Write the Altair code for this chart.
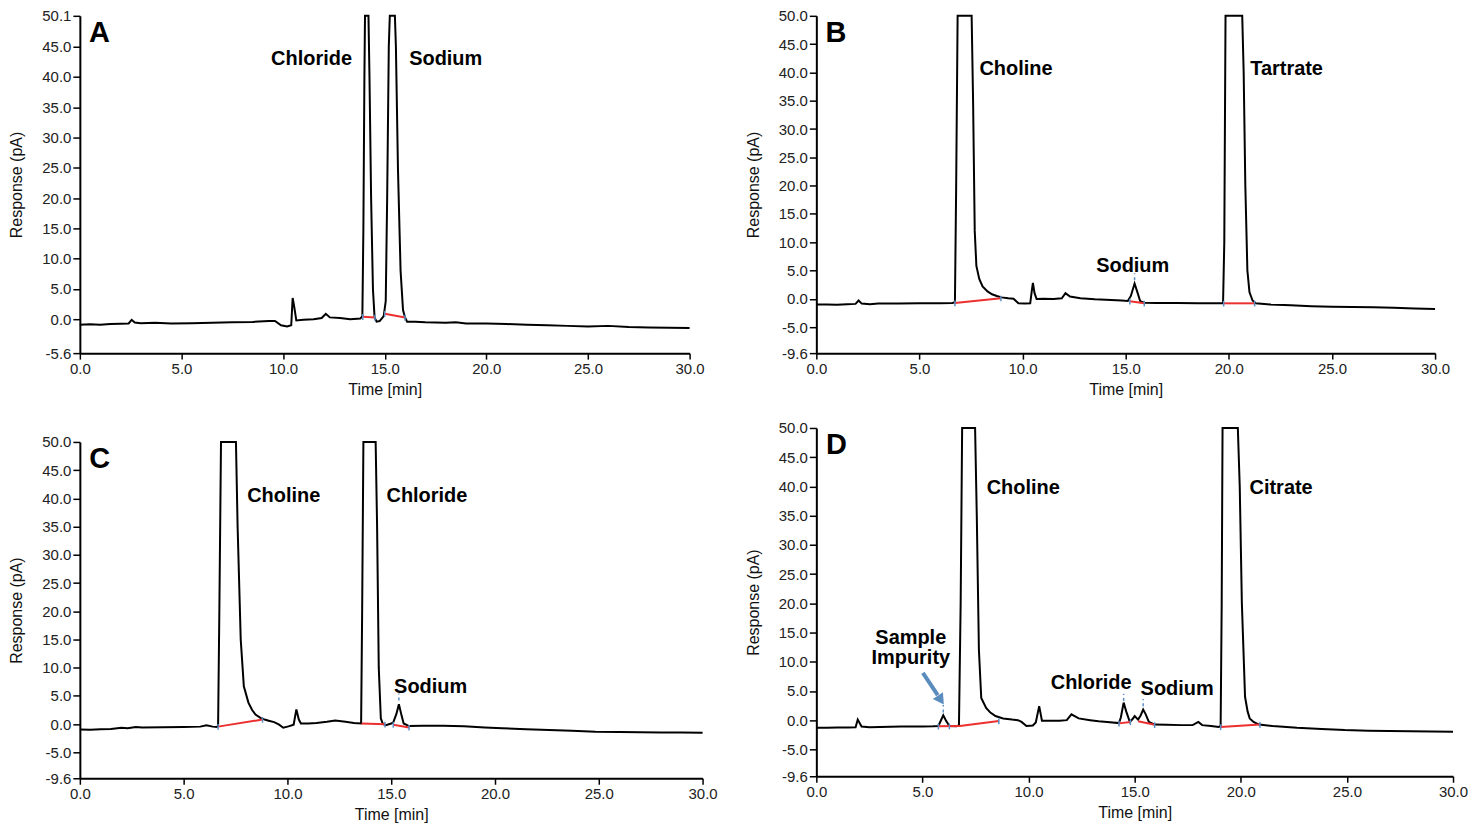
import altair as alt
import pandas as pd

# ---------------- Panel A ----------------
A_time = [0.0, 0.5, 1.0, 1.5, 2.0, 2.4, 2.55, 2.7, 3.0, 3.7, 4.5, 5.5, 6.5, 7.5, 8.5, 9.3, 9.6, 9.9, 10.2, 10.4,
          10.47, 10.55, 10.65, 11.0, 11.5, 11.9, 12.1, 12.3, 12.8, 13.3, 13.8, 13.9, 13.95, 14.0, 14.03, 14.2,
          14.25, 14.33, 14.42, 14.5, 14.6, 14.75, 14.95, 15.05, 15.12, 15.2, 15.25, 15.5, 15.55, 15.65, 15.78,
          15.9, 16.0, 16.1, 16.5, 17.0, 18.0, 18.5, 19.0, 20.0, 21.0, 22.0, 23.0, 24.0, 25.0, 26.0, 27.0, 28.0,
          29.0, 30.0]
A_resp = [-0.9, -0.85, -0.9, -0.8, -0.75, -0.7, -0.1, -0.55, -0.65, -0.6, -0.7, -0.65, -0.6, -0.5, -0.45, -0.3,
          -0.3, -1.0, -1.2, -1.0, 3.5, 2.0, -0.2, -0.1, 0.0, 0.2, 0.9, 0.3, 0.2, 0.0, 0.1, 0.5, 15.0, 40.0, 50.1,
          50.1, 40.0, 20.0, 5.0, 0.3, -0.4, -0.3, 0.5, 3.0, 20.0, 45.0, 50.1, 50.1, 45.0, 25.0, 8.0, 1.5, 0.3,
          -0.4, -0.4, -0.5, -0.6, -0.5, -0.7, -0.7, -0.8, -0.9, -1.0, -1.1, -1.2, -1.1, -1.3, -1.35, -1.4, -1.45]
A_red = [(13.92, 0.4, 14.52, 0.3), (15.0, 0.9, 16.0, 0.3)]
A_ticks = [(13.92, 0.4), (14.52, 0.3), (15.0, 0.9), (16.0, 0.3)]
A_tops = []
A_labels = ["Chloride", "Sodium"]
A_label_x = [11.4, 18.0]
A_label_y = [43.0, 43.0]
A_yticks = [-5.6, 0.0, 5.0, 10.0, 15.0, 20.0, 25.0, 30.0, 35.0, 40.0, 45.0, 50.1]

# ---------------- Panel B ----------------
B_time = [0.0, 0.5, 1.0, 1.5, 1.9, 2.05, 2.2, 2.6, 3.0, 4.0, 5.0, 6.0, 6.6, 6.72, 6.78, 6.85, 7.53, 7.6, 7.68,
          7.76, 7.9, 8.06, 8.3, 8.52, 8.75, 8.98, 9.3, 9.56, 9.8, 10.1, 10.37, 10.45, 10.5, 10.58, 10.68, 11.0,
          11.5, 11.9, 12.08, 12.3, 12.8, 13.5, 14.3, 14.8, 15.1, 15.25, 15.43, 15.58, 15.7, 15.9, 16.5, 17.5,
          18.5, 19.5, 19.72, 19.78, 19.84, 20.65, 20.72, 20.8, 20.9, 21.0, 21.15, 21.3, 22.0, 23.0, 24.0, 25.0,
          26.0, 27.0, 28.0, 29.0, 30.0]
B_resp = [-1.0, -1.0, -1.05, -0.95, -0.9, -0.3, -0.85, -0.95, -0.85, -0.85, -0.8, -0.8, -0.75, -0.6, 20.0, 50.0,
          50.0, 35.0, 12.0, 5.8, 3.5, 2.2, 1.3, 0.8, 0.5, 0.25, 0.1, 0.0, -0.8, -0.85, -0.8, 1.5, 2.8, 1.0, -0.05,
          0.0, -0.05, 0.1, 1.0, 0.4, 0.1, -0.1, -0.2, -0.3, -0.4, 0.5, 2.7, 1.0, -0.4, -0.7, -0.75, -0.75, -0.8,
          -0.8, -0.8, 10.0, 50.0, 50.0, 40.0, 20.0, 5.0, 1.2, -0.3, -0.8, -1.0, -1.15, -1.3, -1.4, -1.45, -1.5,
          -1.6, -1.7, -1.8]
B_red = [(6.72, -0.75, 8.95, 0.1), (15.2, -0.45, 15.9, -0.8), (19.75, -0.8, 21.25, -0.8)]
B_ticks = [(6.72, -0.75), (8.95, 0.1), (15.2, -0.45), (15.9, -0.8), (19.75, -0.8), (21.25, -0.8)]
B_tops = [(15.43, 3.3, 4.5)]
B_labels = ["Choline", "Tartrate", "Sodium"]
B_label_x = [9.68, 22.8, 15.34]
B_label_y = [40.6, 40.6, 5.8]
B_yticks = [-9.6, -5.0, 0.0, 5.0, 10.0, 15.0, 20.0, 25.0, 30.0, 35.0, 40.0, 45.0, 50.0]

# ---------------- Panel C ----------------
C_time = [0.0, 0.5, 1.0, 1.5, 2.0, 2.3, 2.7, 3.0, 4.0, 5.0, 5.8, 6.1, 6.4, 6.6, 6.66, 6.72, 6.8, 7.52, 7.6, 7.75,
          7.9, 8.12, 8.3, 8.46, 8.7, 8.9, 9.1, 9.36, 9.6, 9.8, 10.05, 10.3, 10.43, 10.55, 10.65, 11.0, 11.4,
          11.9, 12.3, 12.8, 13.2, 13.55, 13.6, 13.66, 14.25, 14.32, 14.4, 14.5, 14.6, 14.74, 15.0, 15.1, 15.25,
          15.37, 15.5, 15.6, 15.86, 16.5, 17.5, 18.5, 19.5, 20.35, 21.5, 22.6, 23.7, 24.84, 26.0, 27.0, 28.0,
          29.0, 30.0]
C_resp = [-0.95, -1.0, -0.9, -0.85, -0.65, -0.75, -0.5, -0.6, -0.55, -0.5, -0.45, -0.2, -0.45, -0.5, -0.3, 20.0,
          50.0, 50.0, 35.0, 15.0, 6.7, 3.8, 2.5, 1.7, 1.1, 0.8, 0.6, 0.35, -0.1, -0.65, -0.4, -0.1, 2.6, 0.8, 0.1,
          0.1, 0.2, 0.4, 0.65, 0.4, 0.2, 0.1, 20.0, 50.0, 50.0, 35.0, 10.0, 1.0, 0.0, -0.2, 0.1, 0.3, 1.8, 3.5,
          1.5, 0.1, -0.35, -0.3, -0.3, -0.4, -0.6, -0.75, -0.9, -1.05, -1.2, -1.35, -1.4, -1.45, -1.5, -1.5,
          -1.55]
C_red = [(6.66, -0.45, 8.8, 0.8), (13.57, 0.1, 14.7, -0.05), (15.1, -0.1, 15.86, -0.6)]
C_ticks = [(6.66, -0.45), (8.8, 0.8), (14.7, -0.05), (15.1, -0.1), (15.86, -0.6)]
C_tops = [(15.37, 4.2, 5.4)]
C_labels = ["Choline", "Chloride", "Sodium"]
C_label_x = [9.82, 16.72, 16.9]
C_label_y = [40.5, 40.5, 6.5]
C_yticks = B_yticks

# ---------------- Panel D ----------------
D_time = [0.0, 0.5, 1.0, 1.5, 1.85, 1.95, 2.13, 2.5, 3.0, 4.0, 5.0, 5.5, 5.75, 5.9, 5.98, 6.1, 6.27, 6.6, 6.72,
          6.8, 6.87, 7.48, 7.56, 7.66, 7.77, 8.0, 8.2, 8.44, 8.8, 9.22, 9.5, 9.67, 9.9, 10.2, 10.34, 10.5, 10.63,
          11.0, 11.46, 11.8, 12.02, 12.36, 12.9, 13.3, 13.7, 14.26, 14.35, 14.48, 14.6, 14.77, 14.9, 15.0,
          15.16, 15.28, 15.4, 15.52, 15.67, 15.94, 16.5, 17.2, 17.73, 18.0, 18.18, 18.6, 18.96, 19.05, 19.1,
          19.14, 19.86, 19.95, 20.05, 20.2, 20.32, 20.42, 20.6, 20.86, 21.5, 22.65, 23.8, 24.9, 26.0, 27.0,
          28.0, 29.0, 30.0]
D_resp = [-1.3, -1.3, -1.25, -1.25, -1.2, 0.1, -1.1, -1.2, -1.15, -1.1, -1.1, -1.05, -1.0, 0.2, 0.85, 0.0, -1.0,
          -1.05, -0.9, 20.0, 50.0, 50.0, 35.0, 12.0, 3.8, 2.1, 1.3, 0.7, 0.3, 0.1, 0.0, -0.3, -1.0, -0.9, -0.4,
          2.4, -0.1, -0.1, -0.1, 0.0, 1.0, 0.3, 0.0, -0.2, -0.3, -0.5, 0.5, 3.0, 1.5, -0.3, 0.2, 0.7, 0.1, 0.8,
          1.8, 1.0, -0.3, -0.75, -0.8, -0.85, -0.85, -0.3, -0.85, -1.0, -1.15, -1.0, 20.0, 50.0, 50.0, 40.0,
          20.0, 4.0, 1.5, 0.3, -0.3, -0.75, -1.0, -1.3, -1.5, -1.7, -1.8, -1.85, -1.9, -1.95, -2.0]
D_red = [(5.75, -1.05, 6.76, -1.0), (6.76, -1.0, 8.6, -0.15), (14.26, -0.55, 14.8, -0.3),
         (15.16, -0.2, 15.94, -0.8), (19.05, -1.15, 20.9, -0.75)]
D_ticks = [(5.75, -1.05), (6.27, -1.02), (8.6, -0.15), (14.26, -0.55), (14.8, -0.3), (15.94, -0.8),
           (19.05, -1.15), (20.9, -0.75)]
D_tops = [(5.98, 1.3, 2.6), (14.48, 3.3, 4.5), (15.4, 2.4, 3.6)]
D_labels = ["Choline", "Citrate", "Chloride", "Sodium", "Sample", "Impurity"]
D_label_x = [9.75, 21.9, 12.95, 17.0, 4.45, 4.45]
D_label_y = [39.8, 39.8, 6.3, 5.3, 14.0, 10.6]
D_yticks = B_yticks
D_arrow = (5.02, 8.1, 5.72, 4.3)
D_arrow_head = (5.82, 3.7)

FONT = "Liberation Sans"
RED = "#ec2f2f"
BLUE = "#5b8fc4"
ARROW = "#5a8cbd"
LABEL_EXPR = "replace(format(datum.value, '.1f'), '\u2212', '-')"


def panel(letter, t, r, ymin, ymax, yticks, width, height, labels, lx, ly, red, ticks, tops,
          arrow=None, head=None):
    xs = alt.Scale(domain=[0, 30], nice=False, zero=False)
    ys = alt.Scale(domain=[ymin, ymax], nice=False, zero=False)
    xax = alt.Axis(values=[0, 5, 10, 15, 20, 25, 30], labelExpr=LABEL_EXPR, title="Time [min]",
                   labelOverlap=False, labelFlush=False, tickSize=6, tickCount=20)
    yax = alt.Axis(values=yticks, labelExpr=LABEL_EXPR, title="Response (pA)",
                   labelOverlap=False, labelFlush=False, tickCount=30)

    trace = pd.DataFrame({"t": t, "r": r})
    line = alt.Chart(trace).mark_line(color="black", strokeWidth=2).encode(
        x=alt.X("t:Q", scale=xs, axis=xax),
        y=alt.Y("r:Q", scale=ys, axis=yax),
    )
    layers = [line]

    red_df = pd.DataFrame(red, columns=["x1", "y1", "x2", "y2"])
    layers.append(alt.Chart(red_df).mark_rule(color=RED, strokeWidth=2).encode(
        x=alt.X("x1:Q", scale=xs), x2="x2:Q", y=alt.Y("y1:Q", scale=ys), y2="y2:Q"))

    tk = pd.DataFrame(ticks, columns=["x", "y"])
    tk["lo"] = tk["y"] - 0.55
    tk["hi"] = tk["y"] + 0.45
    layers.append(alt.Chart(tk).mark_rule(color=BLUE, strokeWidth=1.5).encode(
        x=alt.X("x:Q", scale=xs), y=alt.Y("lo:Q", scale=ys), y2="hi:Q"))

    if tops:
        tp = pd.DataFrame(tops, columns=["x", "lo", "hi"])
        layers.append(alt.Chart(tp).mark_rule(color=BLUE, strokeWidth=1.5, strokeDash=[3, 3]).encode(
            x=alt.X("x:Q", scale=xs), y=alt.Y("lo:Q", scale=ys), y2="hi:Q"))

    if arrow is not None:
        ad = pd.DataFrame([arrow], columns=["x1", "y1", "x2", "y2"])
        layers.append(alt.Chart(ad).mark_rule(color=ARROW, strokeWidth=4).encode(
            x=alt.X("x1:Q", scale=xs), x2="x2:Q", y=alt.Y("y1:Q", scale=ys), y2="y2:Q"))
        hd = pd.DataFrame([head], columns=["x", "y"])
        layers.append(alt.Chart(hd).mark_point(shape="triangle", filled=True, color=ARROW, size=150,
                                               angle=146, opacity=1).encode(
            x=alt.X("x:Q", scale=xs), y=alt.Y("y:Q", scale=ys)))

    lab = pd.DataFrame({"x": lx, "y": ly, "text": labels})
    layers.append(alt.Chart(lab).mark_text(font=FONT, fontSize=20, fontWeight="bold", color="black",
                                           align="center", baseline="middle").encode(
        x=alt.X("x:Q", scale=xs), y=alt.Y("y:Q", scale=ys), text="text:N"))

    let = pd.DataFrame({"x": [0.45], "y": [ymax - 0.05 * (ymax - ymin)], "text": [letter]})
    layers.append(alt.Chart(let).mark_text(font=FONT, fontSize=29, fontWeight="bold", color="black",
                                           align="left", baseline="middle").encode(
        x=alt.X("x:Q", scale=xs), y=alt.Y("y:Q", scale=ys), text="text:N"))

    return alt.layer(*layers).properties(width=width, height=height)


pA = panel("A", A_time, A_resp, -5.6, 50.1, A_yticks, 611, 338, A_labels, A_label_x, A_label_y,
           A_red, A_ticks, A_tops)
pB = panel("B", B_time, B_resp, -9.6, 50.0, B_yticks, 620, 338, B_labels, B_label_x, B_label_y,
           B_red, B_ticks, B_tops)
pC = panel("C", C_time, C_resp, -9.6, 50.0, C_yticks, 624, 337, C_labels, C_label_x, C_label_y,
           C_red, C_ticks, C_tops)
pD = panel("D", D_time, D_resp, -9.6, 50.0, D_yticks, 638, 349, D_labels, D_label_x, D_label_y,
           D_red, D_ticks, D_tops, D_arrow, D_arrow_head)

left = alt.vconcat(pA, pC, spacing=38)
right = alt.vconcat(pB, pD, spacing=24)

chart = alt.hconcat(left, right, spacing=27).configure_view(strokeWidth=0).configure_axis(
    grid=False,
    domainColor="black",
    domainWidth=2,
    tickColor="black",
    tickWidth=1.5,
    tickSize=7,
    labelFont=FONT,
    labelFontSize=15,
    labelColor="#222222",
    labelPadding=2,
    titleFont=FONT,
    titleFontSize=16,
    titleFontWeight="normal",
    titleColor="#111111",
).configure_axisY(titlePadding=17).configure_axisX(titlePadding=5).properties(
    padding={"left": 0, "top": 0, "right": 0, "bottom": 0})

chart.save("out.html", embed_options={"renderer": "svg", "actions": False})
